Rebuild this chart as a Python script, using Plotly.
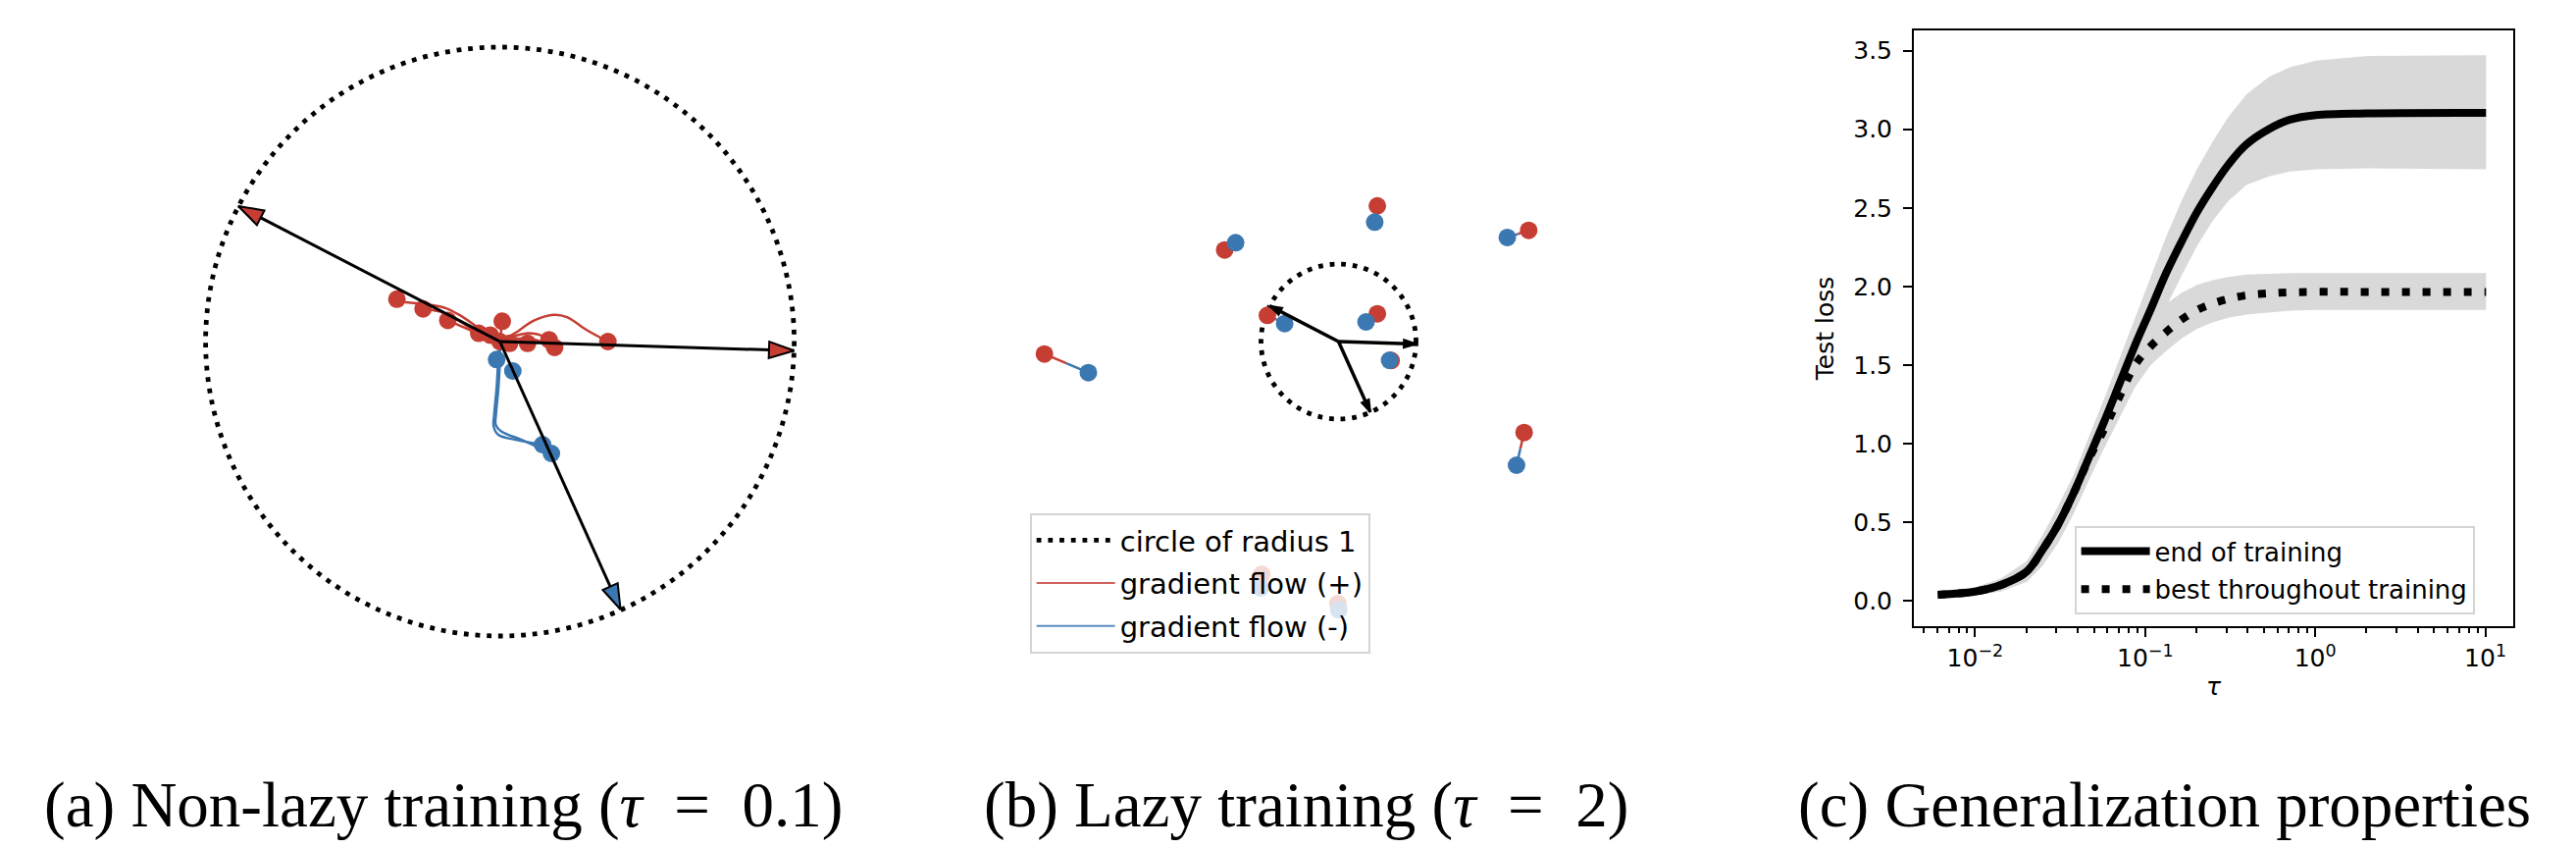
import numpy as np
import plotly.graph_objects as go

W, H = 2626, 864

RED = "#c53d33"
BLUE = "#3b78b1"
BAND = "rgb(217,217,217)"

# teacher neurons (arrow tips), shared by panels (a) and (b)
teacher_x = [-0.889, 1.0, 0.41]
teacher_y = [0.46, -0.031, -0.91]
teacher_sign = ["+", "+", "-"]

# (a) non-lazy: particle positions at the end of training
a_red_x = [-0.350, -0.261, -0.177, -0.072, -0.033, 0.008, 0.0, 0.033, 0.094, 0.167, 0.186, 0.367]
a_red_y = [0.144, 0.111, 0.072, 0.028, 0.022, 0.069, 0.0, -0.006, -0.006, 0.006, -0.020, 0.0]
a_blue_x = [-0.011, 0.044, 0.145, 0.175]
a_blue_y = [-0.061, -0.100, -0.350, -0.380]

# (a) gradient flow paths
a_red_path_x = [
    [0.0, -0.061, -0.139, -0.183, -0.233, -0.294, -0.350],
    [0.0, -0.072, -0.150, -0.205, -0.261],
    [0.0, -0.080, -0.177],
    [0.0, -0.072],
    [0.0, 0.008],
    [0.0, 0.050, 0.094],
    [0.0, 0.094, 0.150, 0.167],
    [0.0, 0.100, 0.186],
    [0.0, 0.050, 0.117, 0.184, 0.228, 0.295, 0.367],
]
a_red_path_y = [
    [0.0, 0.039, 0.091, 0.113, 0.124, 0.131, 0.137],
    [0.0, 0.028, 0.078, 0.102, 0.111],
    [0.0, 0.030, 0.072],
    [0.0, 0.028],
    [0.0, 0.069],
    [0.0, 0.012, -0.006],
    [0.0, 0.028, 0.017, 0.006],
    [0.0, 0.010, -0.020],
    [0.0, 0.028, 0.072, 0.091, 0.083, 0.039, 0.0],
]
a_blue_path_x = [
    [0.0, -0.005, -0.011, -0.019, -0.021, -0.005, 0.050, 0.145],
    [0.0, 0.0, -0.005, -0.013, -0.014, 0.006, 0.072, 0.175],
]
a_blue_path_y = [
    [0.0, -0.056, -0.156, -0.244, -0.289, -0.317, -0.333, -0.350],
    [0.0, -0.056, -0.156, -0.244, -0.283, -0.306, -0.333, -0.380],
]

# (b) lazy: red/blue pairs
b_red_x = [0.501, 2.454, -1.469, -3.795, -0.918, 0.501, 0.679, 2.395, -0.991, -0.008]
b_red_y = [1.750, 1.434, 1.181, -0.161, 0.338, 0.358, -0.244, -1.173, -3.000, -3.380]
b_blue_x = [0.467, 2.178, -1.328, -3.228, -0.695, 0.355, 0.659, 2.297, -1.005, 0.003]
b_blue_y = [1.540, 1.342, 1.274, -0.401, 0.232, 0.253, -0.241, -1.595, -3.177, -3.460]

# (c) test loss vs tau
tau = [0.00604, 0.01, 0.0142, 0.0201, 0.0248, 0.0306, 0.0378, 0.0466, 0.0574, 0.0708,
       0.0873, 0.108, 0.133, 0.164, 0.202, 0.249, 0.308, 0.393, 0.538, 0.711, 1.01, 2.03, 10.1]
end_loss = [0.038, 0.058, 0.10, 0.185, 0.32, 0.479, 0.680, 0.909, 1.139, 1.383, 1.627, 1.856,
            2.086, 2.286, 2.473, 2.631, 2.774, 2.903, 3.003, 3.061, 3.090, 3.101, 3.104]
end_upper = [0.06, 0.085, 0.14, 0.25, 0.41, 0.594, 0.795, 1.039, 1.285, 1.543, 1.801, 2.059,
             2.318, 2.547, 2.748, 2.920, 3.078, 3.221, 3.336, 3.394, 3.437, 3.466, 3.471]
end_lower = [0.02, 0.035, 0.06, 0.12, 0.22, 0.364, 0.551, 0.766, 0.981, 1.211, 1.440, 1.655,
             1.870, 2.071, 2.258, 2.415, 2.544, 2.645, 2.702, 2.731, 2.745, 2.751, 2.745]
best_loss = [0.038, 0.058, 0.10, 0.185, 0.32, 0.479, 0.680, 0.900, 1.09, 1.30, 1.50, 1.62,
             1.71, 1.79, 1.85, 1.89, 1.92, 1.943, 1.956, 1.962, 1.965, 1.965, 1.965]
best_upper = [0.06, 0.085, 0.14, 0.25, 0.41, 0.594, 0.795, 1.02, 1.22, 1.45, 1.66, 1.81,
              1.89, 1.96, 2.01, 2.04, 2.06, 2.075, 2.08, 2.085, 2.085, 2.085, 2.085]
best_lower = [0.02, 0.035, 0.06, 0.12, 0.22, 0.364, 0.551, 0.766, 0.97, 1.17, 1.36, 1.50,
              1.59, 1.67, 1.73, 1.77, 1.80, 1.82, 1.835, 1.845, 1.85, 1.85, 1.85]

x_tickvals = [0.01, 0.1, 1, 10]
x_ticktext = ["10<sup>−2</sup>", "10<sup>−1</sup>", "10<sup>0</sup>", "10<sup>1</sup>"]
y_tickvals = [0.0, 0.5, 1.0, 1.5, 2.0, 2.5, 3.0, 3.5]

captions = ["(a) Non-lazy training (<i>τ</i>\u2002=\u20020.1)",
            "(b) Lazy training (<i>τ</i>\u2002=\u20022)",
            "(c) Generalization properties"]


def frame(x0, x1, y0, y1, cx, cy, s):
    # pixel box -> domain and data range, with s pixels per unit
    dom_x = [x0 / W, x1 / W]
    dom_y = [1 - y1 / H, 1 - y0 / H]
    rng_x = [(x0 - cx) / s, (x1 - cx) / s]
    rng_y = [(cy - y1) / s, (cy - y0) / s]
    return dom_x, dom_y, rng_x, rng_y


fig = go.Figure()


def add_arrows(xa, ya, head_size, head_colors, shaft_w):
    for tx, ty, hc in zip(teacher_x, teacher_y, head_colors):
        fig.add_trace(go.Scatter(x=[0, tx], y=[0, ty], mode="lines", xaxis=xa, yaxis=ya,
                                 line=dict(color="black", width=shaft_w),
                                 showlegend=False, hoverinfo="skip"))
        ang = np.degrees(np.arctan2(tx, ty))
        fig.add_trace(go.Scatter(x=[tx], y=[ty], mode="markers", xaxis=xa, yaxis=ya,
                                 marker=dict(symbol="arrow", size=head_size, angle=ang,
                                             color=hc, line=dict(color="black", width=2)),
                                 showlegend=False, hoverinfo="skip", cliponaxis=False))


# ---- panel (a)
for px_, py_ in zip(a_red_path_x, a_red_path_y):
    fig.add_trace(go.Scatter(x=px_, y=py_, mode="lines", xaxis="x", yaxis="y",
                             line=dict(color=RED, width=2.5, shape="spline"),
                             showlegend=False, hoverinfo="skip"))
for px_, py_ in zip(a_blue_path_x, a_blue_path_y):
    fig.add_trace(go.Scatter(x=px_, y=py_, mode="lines", xaxis="x", yaxis="y",
                             line=dict(color=BLUE, width=2.5, shape="spline"),
                             showlegend=False, hoverinfo="skip"))
fig.add_trace(go.Scatter(x=a_red_x, y=a_red_y, mode="markers", xaxis="x", yaxis="y",
                         marker=dict(color=RED, size=18), showlegend=False))
fig.add_trace(go.Scatter(x=a_blue_x, y=a_blue_y, mode="markers", xaxis="x", yaxis="y",
                         marker=dict(color=BLUE, size=18), showlegend=False))
add_arrows("x", "y", 27, [RED if s == "+" else BLUE for s in teacher_sign], 3)

# ---- panel (b)
for rx, ry, bx, by in zip(b_red_x, b_red_y, b_blue_x, b_blue_y):
    mx, my = (rx + bx) / 2, (ry + by) / 2
    fig.add_trace(go.Scatter(x=[rx, mx], y=[ry, my], mode="lines", xaxis="x2", yaxis="y2",
                             line=dict(color=RED, width=2.5), showlegend=False, hoverinfo="skip"))
    fig.add_trace(go.Scatter(x=[mx, bx], y=[my, by], mode="lines", xaxis="x2", yaxis="y2",
                             line=dict(color=BLUE, width=2.5), showlegend=False, hoverinfo="skip"))
fig.add_trace(go.Scatter(x=b_red_x, y=b_red_y, mode="markers", xaxis="x2", yaxis="y2",
                         marker=dict(color=RED, size=18), showlegend=False))
fig.add_trace(go.Scatter(x=b_blue_x, y=b_blue_y, mode="markers", xaxis="x2", yaxis="y2",
                         marker=dict(color=BLUE, size=18), showlegend=False))
add_arrows("x2", "y2", 13, ["black"] * 3, 3.5)

# legend entries for (b)
fig.add_trace(go.Scatter(x=[None], y=[None], mode="lines", xaxis="x2", yaxis="y2",
                         name="circle of radius 1", legend="legend", legendgroup="c1",
                         line=dict(color="black", width=4.8, dash="4.8px,6.9px")))
fig.add_trace(go.Scatter(x=[None], y=[None], mode="lines", xaxis="x2", yaxis="y2",
                         name="gradient flow (+)", legend="legend", legendgroup="gp",
                         line=dict(color="#d0625b", width=2)))
fig.add_trace(go.Scatter(x=[None], y=[None], mode="lines", xaxis="x2", yaxis="y2",
                         name="gradient flow (-)", legend="legend", legendgroup="gm",
                         line=dict(color="#5a8cc0", width=2)))

# ---- panel (c)
fig.add_trace(go.Scatter(x=tau + tau[::-1], y=end_upper + end_lower[::-1], fill="toself",
                         fillcolor=BAND, line=dict(width=0), mode="lines",
                         xaxis="x3", yaxis="y3", showlegend=False, hoverinfo="skip"))
fig.add_trace(go.Scatter(x=tau + tau[::-1], y=best_upper + best_lower[::-1], fill="toself",
                         fillcolor=BAND, line=dict(width=0), mode="lines",
                         xaxis="x3", yaxis="y3", showlegend=False, hoverinfo="skip"))
fig.add_trace(go.Scatter(x=tau, y=end_loss, mode="lines", xaxis="x3", yaxis="y3",
                         name="end of training", legend="legend2", legendgroup="end",
                         line=dict(color="black", width=8, shape="spline")))
fig.add_trace(go.Scatter(x=tau, y=best_loss, mode="lines", xaxis="x3", yaxis="y3",
                         name="best throughout training", legend="legend2", legendgroup="best",
                         line=dict(color="black", width=8, dash="8px,13px", shape="spline")))

# ---- layout
da_x, da_y, ra_x, ra_y = frame(150, 860, 0, 700, 501.6, 340, 300)
db_x, db_y, rb_x, rb_y = frame(1000, 1620, 0, 700, 1356.5, 340, 79)

hidden = dict(visible=False, showgrid=False, zeroline=False, fixedrange=True)
tick_font = dict(family="DejaVu Sans", size=25, color="black")

fig.update_layout(
    width=W, height=H, autosize=False,
    margin=dict(l=0, r=0, t=0, b=0),
    paper_bgcolor="white", plot_bgcolor="white",
    font=dict(family="DejaVu Sans", color="black"),
    xaxis=dict(domain=da_x, range=ra_x, anchor="y", **hidden),
    yaxis=dict(domain=da_y, range=ra_y, anchor="x", **hidden),
    xaxis2=dict(domain=db_x, range=rb_x, anchor="y2", **hidden),
    yaxis2=dict(domain=db_y, range=rb_y, anchor="x2", **hidden),
    xaxis3=dict(domain=[1943 / W, 2554 / W], type="log", range=[-2.36, 1.164], anchor="y3",
                showline=True, linecolor="black", linewidth=2, mirror=True,
                showgrid=False, zeroline=False,
                ticks="outside", ticklen=9, tickwidth=2, tickcolor="black",
                tickvals=x_tickvals, ticktext=x_ticktext, tickfont=tick_font,
                minor=dict(ticks="outside", ticklen=5, tickwidth=1.5, tickcolor="black",
                           tickvals=[v * m for v in [0.001, 0.01, 0.1, 1] for m in range(2, 10)]),
                title=dict(text="<i>τ</i>", font=dict(family="DejaVu Sans", size=25), standoff=6)),
    yaxis3=dict(domain=[1 - 630 / H, 1 - 23 / H], range=[-0.1625, 3.629], anchor="x3",
                showline=True, linecolor="black", linewidth=2, mirror=True,
                showgrid=False, zeroline=False,
                ticks="outside", ticklen=9, tickwidth=2, tickcolor="black",
                tickvals=y_tickvals, tickformat=".1f", tickfont=tick_font,
                ticklabelstandoff=6,
                title=dict(text="Test loss", font=dict(family="DejaVu Sans", size=25), standoff=12)),
    legend=dict(x=1041.7 / W, y=1 - 515 / H, xanchor="left", yanchor="top",
                bgcolor="rgba(255,255,255,0.8)", bordercolor="#d4d4d4", borderwidth=2,
                font=dict(family="DejaVu Sans", size=29, color="black"),
                itemwidth=80, tracegroupgap=3),
    legend2=dict(x=2106.6 / W, y=1 - 528 / H, xanchor="left", yanchor="top",
                 bgcolor="rgba(255,255,255,0.8)", bordercolor="#d4d4d4", borderwidth=2,
                 font=dict(family="DejaVu Sans", size=26, color="black"),
                 itemwidth=70, tracegroupgap=2),
)

# dotted unit circles
for xr, yr in [("x", "y"), ("x2", "y2")]:
    fig.add_shape(type="circle", xref=xr, yref=yr, x0=-1, y0=-1, x1=1, y1=1,
                  line=dict(color="black", width=4.8, dash="4.8px,6.9px"), layer="below")

# captions
for cx, txt in zip([444, 1323.5, 2198], captions):
    fig.add_annotation(x=cx / W, y=1 - 812 / H, xref="paper", yref="paper",
                       xanchor="center", yanchor="middle", showarrow=False, text=txt,
                       font=dict(family="Liberation Serif", size=65, color="black"))

fig.write_html("out.html")
